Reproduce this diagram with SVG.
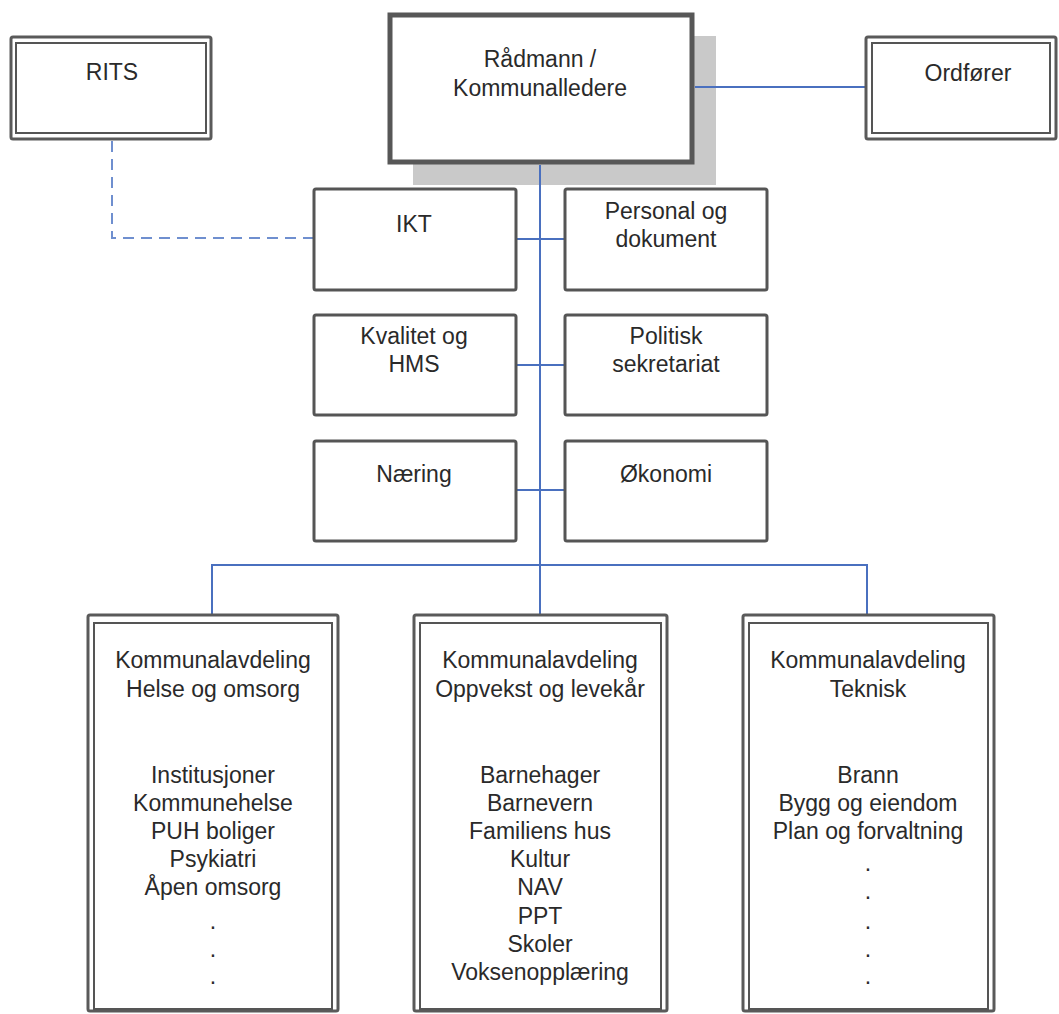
<svg xmlns="http://www.w3.org/2000/svg" width="1059" height="1014" viewBox="0 0 1059 1014">
<style>
text{font-family:"Liberation Sans",Arial,sans-serif;font-size:23px;fill:#2a2a2a;text-anchor:middle}
.dbl-o{fill:#fff;stroke:#5a5a5a;stroke-width:3}
.dbl-i{fill:none;stroke:#555;stroke-width:2}
.box{fill:#fff;stroke:#555;stroke-width:3}
.conn{fill:none;stroke:#4a70bf;stroke-width:2}
.dash{fill:none;stroke:#6f8fcf;stroke-width:2;stroke-dasharray:11 7}
</style>
<rect width="1059" height="1014" fill="#fff"/>
<g id="radmann">
<rect x="413" y="36" width="303" height="149" fill="#c9c9c9"/>
<rect x="390" y="15" width="302" height="147" fill="#fff" stroke="#575757" stroke-width="5"/>
<text x="540" y="67">Rådmann /</text>
<text x="540" y="96">Kommunalledere</text>
</g>
<g id="connectors">
<path class="dash" d="M112 141 V238 H313"/>
<path class="conn" d="M695 87 H865"/>
<path class="conn" d="M540 165 V614"/>
<path class="conn" d="M516 239 H564 M516 365 H564 M516 490 H564"/>
<path class="conn" d="M212 614 V565 H867 V614"/>
</g>
<g id="rits">
<rect class="dbl-o" x="11" y="37" width="200" height="102" rx="2"/>
<rect class="dbl-i" x="16" y="43" width="190" height="90"/>
<text x="112" y="80">RITS</text>
</g>
<g id="ordforer">
<rect class="dbl-o" x="866" y="37" width="190" height="102" rx="2"/>
<rect class="dbl-i" x="872" y="43" width="178" height="90"/>
<text x="968" y="81">Ordfører</text>
</g>
<g id="ikt">
<rect class="box" x="314" y="189" width="202" height="101" rx="2"/>
<text x="414" y="232">IKT</text>
</g>
<g id="personal">
<rect class="box" x="565" y="189" width="202" height="101" rx="2"/>
<text x="666" y="219">Personal og</text>
<text x="666" y="247">dokument</text>
</g>
<g id="kvalitet">
<rect class="box" x="314" y="315" width="202" height="100" rx="2"/>
<text x="414" y="344">Kvalitet og</text>
<text x="414" y="372">HMS</text>
</g>
<g id="politisk">
<rect class="box" x="565" y="315" width="202" height="100" rx="2"/>
<text x="666" y="344">Politisk</text>
<text x="666" y="372">sekretariat</text>
</g>
<g id="naering">
<rect class="box" x="314" y="441" width="202" height="100" rx="2"/>
<text x="414" y="482">Næring</text>
</g>
<g id="okonomi">
<rect class="box" x="565" y="441" width="202" height="100" rx="2"/>
<text x="666" y="482">Økonomi</text>
</g>
<g id="helse">
<rect class="dbl-o" x="88" y="615" width="250" height="396" rx="2"/>
<rect class="dbl-i" x="94" y="623" width="238" height="386"/>
<text x="213" y="668">Kommunalavdeling</text>
<text x="213" y="697">Helse og omsorg</text>
<text x="213" y="783">Institusjoner</text>
<text x="213" y="811">Kommunehelse</text>
<text x="213" y="839">PUH boliger</text>
<text x="213" y="867">Psykiatri</text>
<text x="213" y="895">Åpen omsorg</text>
<text x="213" y="929">.</text>
<text x="213" y="957">.</text>
<text x="213" y="984">.</text>
</g>
<g id="oppvekst">
<rect class="dbl-o" x="414" y="615" width="253" height="396" rx="2"/>
<rect class="dbl-i" x="420" y="623" width="241" height="386"/>
<text x="540" y="668">Kommunalavdeling</text>
<text x="540" y="697">Oppvekst og levekår</text>
<text x="540" y="783">Barnehager</text>
<text x="540" y="811">Barnevern</text>
<text x="540" y="839">Familiens hus</text>
<text x="540" y="867">Kultur</text>
<text x="540" y="895">NAV</text>
<text x="540" y="924">PPT</text>
<text x="540" y="952">Skoler</text>
<text x="540" y="980">Voksenopplæring</text>
</g>
<g id="teknisk">
<rect class="dbl-o" x="743" y="615" width="251" height="396" rx="2"/>
<rect class="dbl-i" x="749" y="623" width="239" height="386"/>
<text x="868" y="668">Kommunalavdeling</text>
<text x="868" y="697">Teknisk</text>
<text x="868" y="783">Brann</text>
<text x="868" y="811">Bygg og eiendom</text>
<text x="868" y="839">Plan og forvaltning</text>
<text x="868" y="871">.</text>
<text x="868" y="899">.</text>
<text x="868" y="929">.</text>
<text x="868" y="957">.</text>
<text x="868" y="984">.</text>
</g>
</svg>
